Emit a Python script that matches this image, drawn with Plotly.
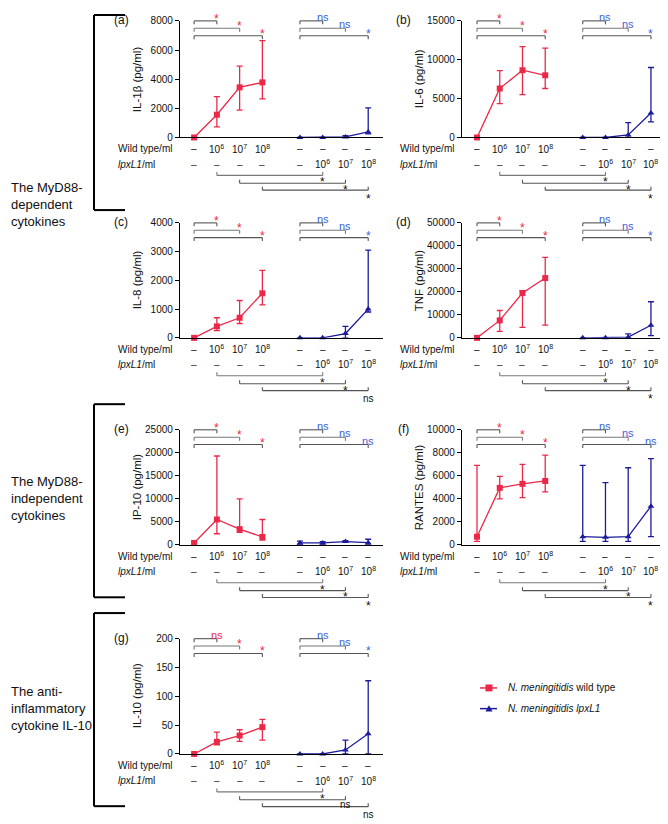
import plotly.graph_objects as go

# page body has an 8px margin: build a 660x816 figure and offset all pixel positions
OX, OY = 8, 8
W, H = 668 - OX, 824 - OY
FONT = "Liberation Sans, Arial, sans-serif"
RED = "#ec2848"
BLUE = "#1c1c9a"
NSBLUE = "#4060d8"

# ---------------- data ----------------
wt_dose_labels = ["–", "10<sup>6</sup>", "10<sup>7</sup>", "10<sup>8</sup>", "–", "–", "–", "–"]
lpx_dose_labels = ["–", "–", "–", "–", "–", "10<sup>6</sup>", "10<sup>7</sup>", "10<sup>8</sup>"]

panel_letters = ["(a)", "(b)", "(c)", "(d)", "(e)", "(f)", "(g)"]
y_titles = ["IL-1β (pg/ml)", "IL-6 (pg/ml)", "IL-8 (pg/ml)", "TNF (pg/ml)",
            "IP-10 (pg/ml)", "RANTES (pg/ml)", "IL-10 (pg/ml)"]
y_max = [8000, 15000, 4000, 50000, 25000, 10000, 200]
y_dtick = [2000, 5000, 1000, 10000, 5000, 2000, 50]

il1b_wt = [0, 1560, 3440, 3780]
il1b_wt_hi = [0, 2800, 4900, 6640]
il1b_wt_lo = [0, 730, 1880, 2650]
il1b_lpx = [0, 0, 40, 380]
il1b_lpx_hi = [0, 0, 120, 2030]
il1b_lpx_lo = [0, 0, 0, 250]

il6_wt = [0, 6300, 8650, 8000]
il6_wt_hi = [0, 8600, 11700, 11500]
il6_wt_lo = [0, 4350, 5500, 6300]
il6_lpx = [0, 0, 330, 3150]
il6_lpx_hi = [0, 0, 1900, 9000]
il6_lpx_lo = [0, 0, 0, 2000]

il8_wt = [0, 400, 700, 1550]
il8_wt_hi = [0, 700, 1300, 2350]
il8_wt_lo = [0, 250, 500, 1150]
il8_lpx = [0, 0, 150, 1000]
il8_lpx_hi = [0, 0, 400, 3050]
il8_lpx_lo = [0, 0, 0, 900]

tnf_wt = [0, 7600, 19500, 26000]
tnf_wt_hi = [0, 11900, 20500, 35000]
tnf_wt_lo = [0, 2800, 4600, 5500]
tnf_lpx = [0, 0, 300, 5500]
tnf_lpx_hi = [0, 0, 1700, 15700]
tnf_lpx_lo = [0, 0, 0, 1000]

ip10_wt = [400, 5500, 3400, 1700]
ip10_wt_hi = [700, 19300, 10000, 5500]
ip10_wt_lo = [200, 2400, 2700, 1000]
ip10_lpx = [400, 400, 700, 450]
ip10_lpx_hi = [800, 700, 900, 1200]
ip10_lpx_lo = [0, 100, 500, 0]

rantes_wt = [700, 4950, 5300, 5550]
rantes_wt_hi = [6900, 5950, 7000, 7800]
rantes_wt_lo = [300, 4000, 4100, 4600]
rantes_lpx = [700, 650, 700, 3350]
rantes_lpx_hi = [6900, 5400, 6700, 7500]
rantes_lpx_lo = [300, 300, 300, 700]

il10_wt = [0, 21, 32, 46.5]
il10_wt_hi = [0, 38, 42, 60]
il10_wt_lo = [0, 16, 22, 24]
il10_lpx = [0, 0, 7, 35]
il10_lpx_hi = [0, 0, 24, 127]
il10_lpx_lo = [0, 0, 0, 0]

sig_top_wt = [["*", "*", "*"], ["*", "*", "*"], ["*", "*", "*"], ["*", "*", "*"],
              ["*", "*", "*"], ["*", "*", "*"], ["ns", "*", "*"]]
sig_top_lpx = [["ns", "ns", "*"], ["ns", "ns", "*"], ["ns", "ns", "*"], ["ns", "ns", "*"],
               ["ns", "ns", "ns"], ["ns", "ns", "ns"], ["ns", "ns", "*"]]
sig_bottom = [["*", "*", "*"], ["*", "*", "*"], ["*", "*", "ns"], ["*", "*", "*"],
              ["*", "*", "*"], ["*", "*", "*"], ["*", "ns", "ns"]]

group_texts = ["The MyD88-<br>dependent<br>cytokines",
               "The MyD88-<br>independent<br>cytokines",
               "The anti-<br>inflammatory<br>cytokine IL-10"]
legend_texts = ["<i>N. meningitidis</i> wild type", "<i>N. meningitidis lpxL1</i>"]

series = [
    (il1b_wt, il1b_wt_hi, il1b_wt_lo, il1b_lpx, il1b_lpx_hi, il1b_lpx_lo),
    (il6_wt, il6_wt_hi, il6_wt_lo, il6_lpx, il6_lpx_hi, il6_lpx_lo),
    (il8_wt, il8_wt_hi, il8_wt_lo, il8_lpx, il8_lpx_hi, il8_lpx_lo),
    (tnf_wt, tnf_wt_hi, tnf_wt_lo, tnf_lpx, tnf_lpx_hi, tnf_lpx_lo),
    (ip10_wt, ip10_wt_hi, ip10_wt_lo, ip10_lpx, ip10_lpx_hi, ip10_lpx_lo),
    (rantes_wt, rantes_wt_hi, rantes_wt_lo, rantes_lpx, rantes_lpx_hi, rantes_lpx_lo),
    (il10_wt, il10_wt_hi, il10_wt_lo, il10_lpx, il10_lpx_hi, il10_lpx_lo),
]

# ---------------- layout geometry (pixels in the screenshot) ----------------
GAP = 0.65
xpos = [i + (GAP if i >= 4 else 0) for i in range(8)]
COLS = [(180, 383, [-0.62, 8.3]), (462, 663, [-0.66, 8.18])]
ROWS = [(15, 133.3), (220, 336.7), (430, 546.7), (642, 759)]
TOP_DY = [0, 7.5, 15]
BOT_DY = [38.5, 46.5, 53.5]
TICK = 3.5
BR_COLORS = ["#555555", "#777777", "#555555"]

fig = go.Figure()
shapes = []
annotations = []


def pxx(x):
    return (x - OX) / W


def pyy(y):
    return 1 - (y - OY) / H


for i in range(7):
    n = i + 1
    col, row = i % 2, i // 2
    xa0, xa1, xr = COLS[col]
    yt, yz = ROWS[row]
    hd = yz - yt
    xs = "x" if n == 1 else f"x{n}"
    ys = "y" if n == 1 else f"y{n}"
    xname = "xaxis" if n == 1 else f"xaxis{n}"
    yname = "yaxis" if n == 1 else f"yaxis{n}"
    fig.layout[xname] = dict(domain=[pxx(xa0), pxx(xa1)], range=xr, anchor=ys,
                             showline=True, linecolor="black", linewidth=1.3,
                             showticklabels=False, ticks="", showgrid=False, zeroline=False,
                             fixedrange=True)
    fig.layout[yname] = dict(domain=[pyy(yz), pyy(yt)], range=[0, y_max[i]], anchor=xs,
                             showline=True, linecolor="black", linewidth=1.3,
                             ticks="outside", ticklen=4, tickwidth=1.2, tickcolor="black",
                             dtick=y_dtick[i], tickformat="d", showgrid=False, zeroline=False,
                             tickfont=dict(size=10, color="#111", family=FONT), fixedrange=True)

    wt, wthi, wtlo, lp, lphi, lplo = series[i]
    fig.add_trace(go.Scatter(
        x=xpos[:4], y=wt, xaxis=xs, yaxis=ys, mode="lines+markers", cliponaxis=False,
        line=dict(color=RED, width=1.3), marker=dict(symbol="square", size=6, color=RED),
        error_y=dict(type="data", symmetric=False,
                     array=[h - m for h, m in zip(wthi, wt)],
                     arrayminus=[m - l for m, l in zip(wt, wtlo)],
                     color=RED, thickness=1.3, width=3),
        showlegend=False))
    fig.add_trace(go.Scatter(
        x=xpos[4:], y=lp, xaxis=xs, yaxis=ys, mode="lines+markers", cliponaxis=False,
        line=dict(color=BLUE, width=1.3), marker=dict(symbol="triangle-up", size=6, color=BLUE),
        error_y=dict(type="data", symmetric=False,
                     array=[h - m for h, m in zip(lphi, lp)],
                     arrayminus=[m - l for m, l in zip(lp, lplo)],
                     color=BLUE, thickness=1.3, width=3),
        showlegend=False))

    ydom = ys + " domain"

    def line(x0, y0, x1, y1, color):
        shapes.append(dict(type="line", xref=xs, yref=ydom, x0=x0, x1=x1, y0=y0, y1=y1,
                           line=dict(color=color, width=1.1)))

    # top brackets
    for g, (start, sigs, scol) in enumerate([(0, sig_top_wt[i], RED), (4, sig_top_lpx[i], NSBLUE)]):
        for k in range(3):
            x0 = xpos[start]
            x1 = xpos[start + k + 1]
            yb = 1 - TOP_DY[k] / hd
            yt_ = 1 - (TOP_DY[k] + TICK) / hd
            c = BR_COLORS[k]
            line(x0, yb, x1, yb, c)
            line(x0, yb, x0, yt_, c)
            line(x1, yb, x1, yt_, c)
            lab = sigs[k]
            if lab == "*":
                ly = 1 - (TOP_DY[k] - 2) / hd
                fs = 12
            else:
                ly = 1 - (TOP_DY[k] - 4) / hd
                fs = 11
            annotations.append(dict(x=x1, y=ly, xref=xs, yref=ydom, text=lab, showarrow=False,
                                    xanchor="center", yanchor="middle",
                                    font=dict(size=fs, color=scol, family=FONT)))

    # bottom brackets
    for k in range(3):
        x0 = xpos[k + 1]
        x1 = xpos[4 + k + 1]
        yb = -BOT_DY[k] / hd
        yt_ = -(BOT_DY[k] - TICK) / hd
        c = BR_COLORS[(k + 1) % 3]
        line(x0, yb, x1, yb, c)
        line(x0, yb, x0, yt_, c)
        line(x1, yb, x1, yt_, c)
        lab = sig_bottom[i][k]
        if lab == "*":
            off = 7 if k < 2 else 8.5
            fs = 12
        else:
            off = 5 if k < 2 else 8
            fs = 10
        annotations.append(dict(x=x1, y=-(BOT_DY[k] + off) / hd, xref=xs, yref=ydom, text=lab,
                                showarrow=False, xanchor="center", yanchor="middle",
                                font=dict(size=fs, color="#111", family=FONT)))

    # dose table
    for j in range(8):
        annotations.append(dict(x=xpos[j], y=-11.5 / hd, xref=xs, yref=ydom, text=wt_dose_labels[j],
                                showarrow=False, xanchor="center", yanchor="middle",
                                font=dict(size=10, color="#111", family=FONT)))
        annotations.append(dict(x=xpos[j], y=-27 / hd, xref=xs, yref=ydom, text=lpx_dose_labels[j],
                                showarrow=False, xanchor="center", yanchor="middle",
                                font=dict(size=10, color="#333" if lpx_dose_labels[j] == "–" else "#111",
                                          family=FONT)))
    annotations.append(dict(x=pxx(xa0 - 64), y=pyy(yz + 11.5), xref="paper", yref="paper",
                            text="Wild type/ml", showarrow=False, xanchor="left", yanchor="middle",
                            font=dict(size=10, color="#111", family=FONT)))
    annotations.append(dict(x=pxx(xa0 - 64), y=pyy(yz + 27), xref="paper", yref="paper",
                            text="<i>lpxL1</i>/ml", showarrow=False, xanchor="left", yanchor="middle",
                            font=dict(size=10, color="#111", family=FONT)))

    # y title
    annotations.append(dict(x=pxx(xa0 - 43), y=pyy((yt + yz) / 2), xref="paper", yref="paper",
                            text=y_titles[i], textangle=-90, showarrow=False,
                            xanchor="center", yanchor="middle",
                            font=dict(size=11.5, color="#111", family=FONT)))
    # panel letter
    annotations.append(dict(x=pxx(xa0 - 59), y=pyy(yt - 1), xref="paper", yref="paper",
                            text=panel_letters[i], showarrow=False,
                            xanchor="center", yanchor="middle",
                            font=dict(size=12, color="#111", family=FONT)))

# group brackets on the left
GROUPS = [(1, 207, 201), (404, 600, 500), (616, 812, 713)]
for (t, b, c), txt in zip(GROUPS, group_texts):
    for (x0, y0, x1, y1) in [(94, max(t, OY + 1), 125, max(t, OY + 1)), (94, max(t, OY + 1), 94, b), (94, b, 125, b)]:
        shapes.append(dict(type="line", xref="paper", yref="paper",
                           x0=pxx(x0), x1=pxx(x1), y0=pyy(y0), y1=pyy(y1),
                           line=dict(color="black", width=2)))
    annotations.append(dict(x=pxx(OX + 1), y=pyy(c), xref="paper", yref="paper", text=txt,
                            showarrow=False, xanchor="left", yanchor="middle", align="left",
                            font=dict(size=13, color="#111", family=FONT)))

# legend (manual)
LEG = [(692, RED, "square"), (713, BLUE, "triangle")]
for (ly, colr, sym), txt in zip(LEG, legend_texts):
    shapes.append(dict(type="line", xref="paper", yref="paper", x0=pxx(480), x1=pxx(497),
                       y0=pyy(ly), y1=pyy(ly), line=dict(color=colr, width=1.5)))
    if sym == "square":
        shapes.append(dict(type="rect", xref="paper", yref="paper", x0=pxx(485.5), x1=pxx(492.5),
                           y0=pyy(ly + 3.5), y1=pyy(ly - 3.5), fillcolor=colr, line=dict(width=0)))
    else:
        shapes.append(dict(type="path", xref="paper", yref="paper",
                           path=f"M {pxx(485.5)},{pyy(ly + 3)} L {pxx(492.5)},{pyy(ly + 3)} L {pxx(489)},{pyy(ly - 3.5)} Z",
                           fillcolor=colr, line=dict(width=0)))
    annotations.append(dict(x=pxx(506), y=pyy(ly), xref="paper", yref="paper", text=txt,
                            showarrow=False, xanchor="left", yanchor="middle",
                            font=dict(size=10, color="#111", family=FONT)))

fig.update_layout(width=W, height=H, margin=dict(l=0, r=0, t=0, b=0), autosize=False,
                  paper_bgcolor="white", plot_bgcolor="white", showlegend=False,
                  shapes=shapes, annotations=annotations,
                  font=dict(family=FONT, color="#111"))
fig.write_html("out.html")
